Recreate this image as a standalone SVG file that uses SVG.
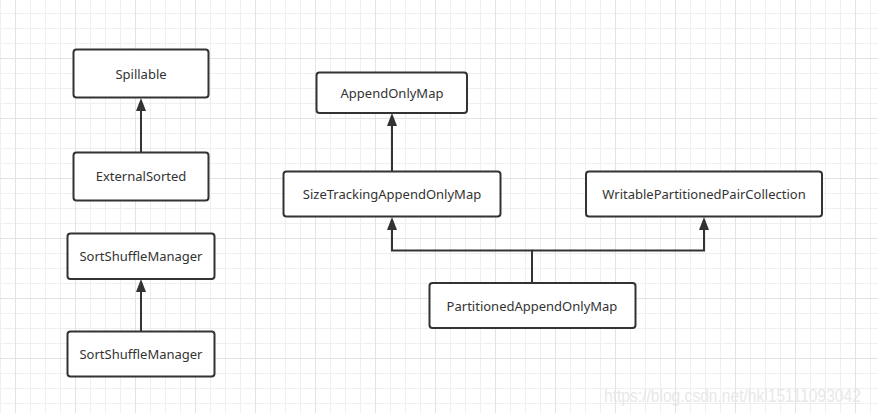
<svg xmlns="http://www.w3.org/2000/svg" width="878" height="413" viewBox="0 0 878 413">
<defs>
<pattern id="grid" x="15" y="58" width="60" height="60" patternUnits="userSpaceOnUse">
<path d="M15.5 0V60M30.5 0V60M45.5 0V60M0 15.5H60M0 30.5H60M0 45.5H60" stroke="#efefef" stroke-width="1" fill="none"/>
<path d="M0.5 0V60M0 0.5H60" stroke="#e3e3e3" stroke-width="1" fill="none"/>
</pattern>
<style>
.box{fill:#fff;stroke:#333;stroke-width:2}
.lbl{font-family:"Noto Sans","Open Sans",sans-serif;font-size:13px;fill:#333;text-anchor:middle}
.conn{fill:none;stroke:#333;stroke-width:2}
.head{fill:#333}
.wm{font-family:"Liberation Sans",Arial,sans-serif;font-size:15.6px;fill:#e8e8e8}
</style>
</defs>
<rect width="878" height="413" fill="#fff"/>
<rect width="878" height="413" fill="url(#grid)"/>
<g id="connectors">
<path class="conn" d="M141 152V111"/>
<path class="head" d="M141 98L146 111H136Z"/>
<path class="conn" d="M141 331V292"/>
<path class="head" d="M141 279L146 292H136Z"/>
<path class="conn" d="M392 171V126"/>
<path class="head" d="M392 113L397 126H387Z"/>
<path class="conn" d="M532 283V250.5H392V230"/>
<path class="head" d="M392 217L397 230H387Z"/>
<path class="conn" d="M532 250.5H704V230"/>
<path class="head" d="M704 217L709 230H699Z"/>
</g>
<g id="Spillable">
<rect class="box" x="73.5" y="49.5" width="135" height="48" rx="3"/>
<text class="lbl" x="141" y="78.5">Spillable</text>
</g>
<g id="ExternalSorted">
<rect class="box" x="73.5" y="152.5" width="135" height="48" rx="3"/>
<text class="lbl" x="141" y="181">ExternalSorted</text>
</g>
<g id="SortShuffleManager1">
<rect class="box" x="67.5" y="233.5" width="147" height="45.5" rx="3"/>
<text class="lbl" x="141" y="261">SortShuffleManager</text>
</g>
<g id="SortShuffleManager2">
<rect class="box" x="67.5" y="331.5" width="147" height="45" rx="3"/>
<text class="lbl" x="141" y="359">SortShuffleManager</text>
</g>
<g id="AppendOnlyMap">
<rect class="box" x="316.5" y="72.5" width="150.5" height="40.5" rx="3"/>
<text class="lbl" x="392" y="97.5">AppendOnlyMap</text>
</g>
<g id="SizeTrackingAppendOnlyMap">
<rect class="box" x="283.5" y="171.5" width="217" height="45" rx="3"/>
<text class="lbl" x="392" y="199">SizeTrackingAppendOnlyMap</text>
</g>
<g id="WritablePartitionedPairCollection">
<rect class="box" x="586" y="171.5" width="236" height="45" rx="3"/>
<text class="lbl" x="704" y="199">WritablePartitionedPairCollection</text>
</g>
<g id="PartitionedAppendOnlyMap">
<rect class="box" x="429.5" y="283" width="206" height="45" rx="3"/>
<text class="lbl" x="532" y="310.5">PartitionedAppendOnlyMap</text>
</g>
<text class="wm" transform="translate(604 401.5) scale(1 1.2)" x="0" y="0">https://blog.csdn.net/hkl15111093042</text>
</svg>
